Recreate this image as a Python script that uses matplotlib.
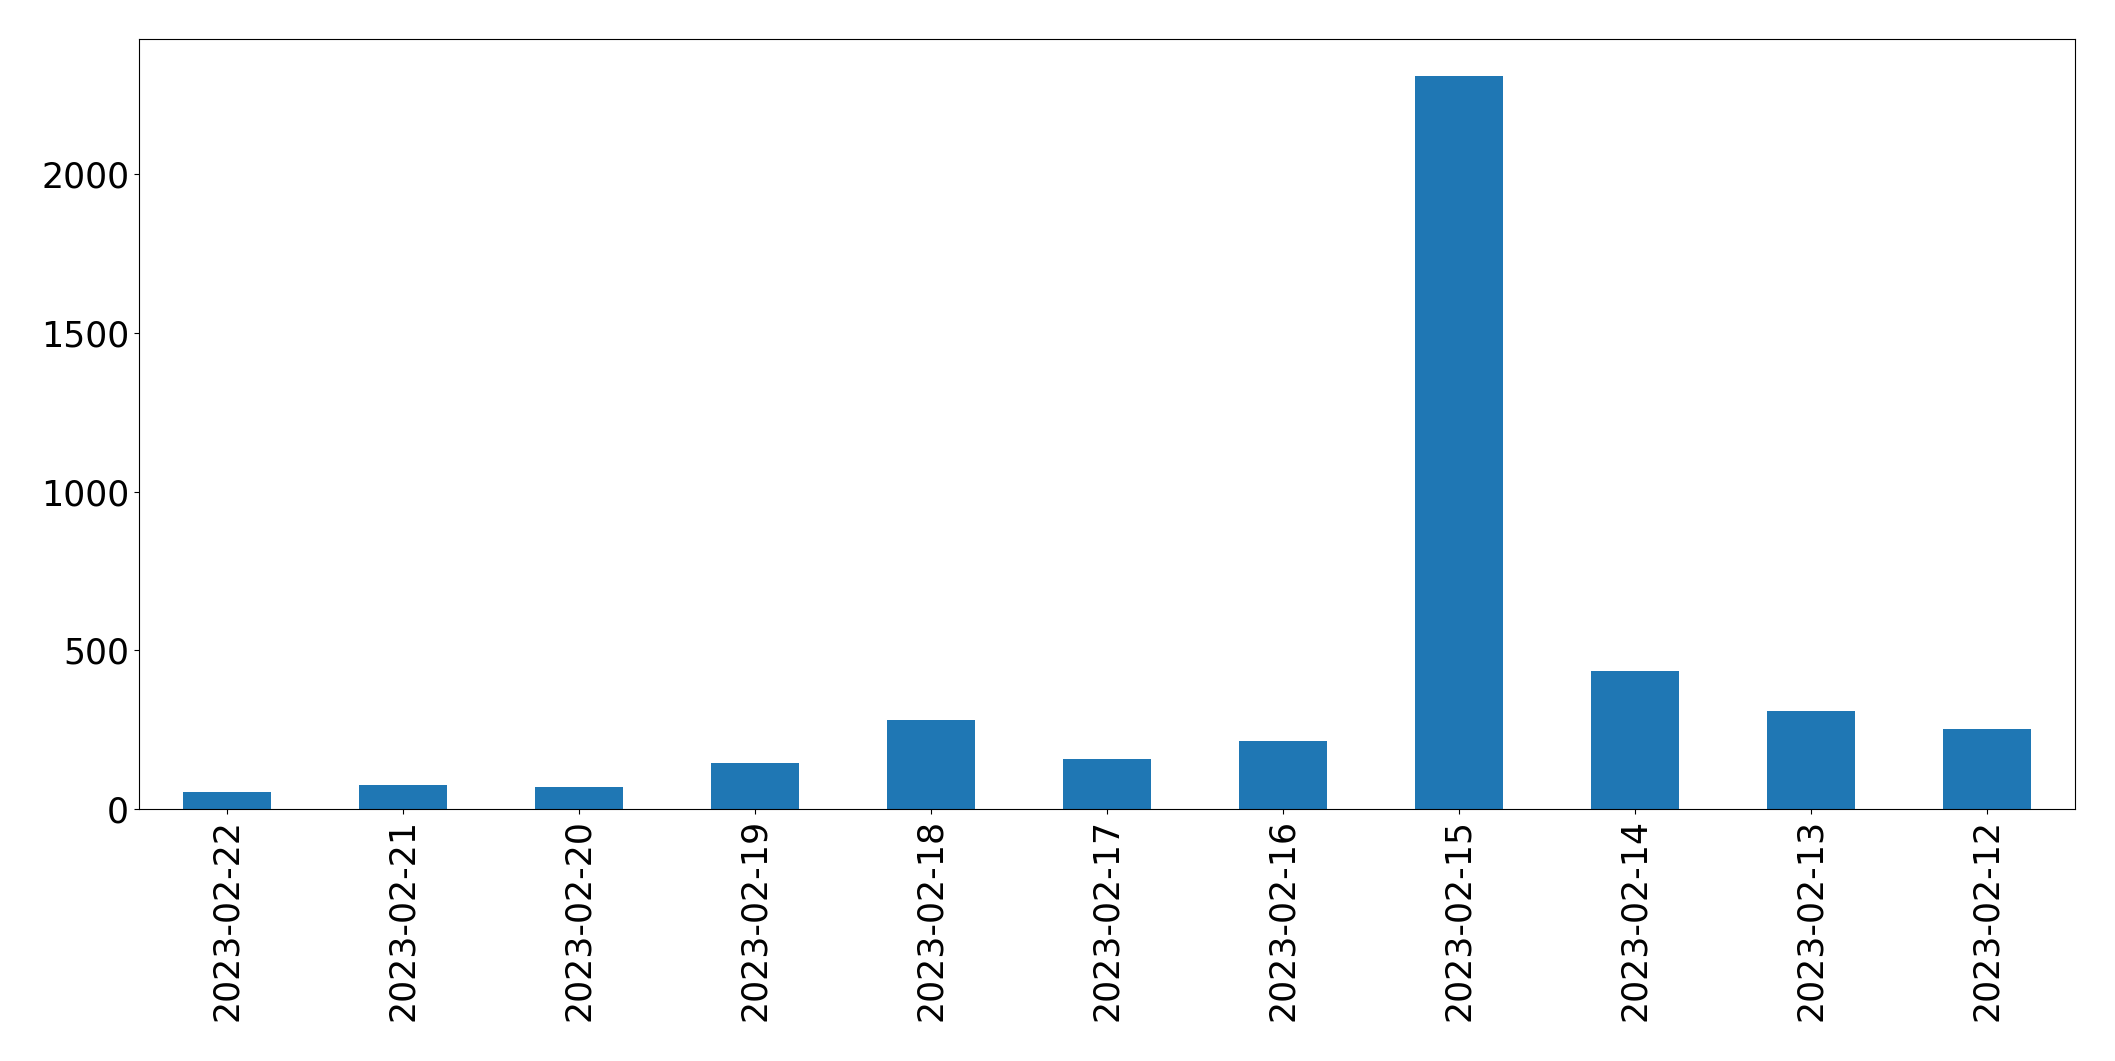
import matplotlib
matplotlib.use("Agg")
import matplotlib.pyplot as plt

dates = ['2023-02-22', '2023-02-21', '2023-02-20', '2023-02-19', '2023-02-18',
         '2023-02-17', '2023-02-16', '2023-02-15', '2023-02-14', '2023-02-13',
         '2023-02-12']
counts = [55, 77, 70, 146, 281, 158, 215, 2310, 436, 310, 253]

fig, ax = plt.subplots(figsize=(21.15, 10.61), dpi=100)
ax.bar(range(len(dates)), counts, width=0.5, color='#1f77b4')
ax.set_xlim(-0.5, len(dates) - 0.5)
ax.set_xticks(range(len(dates)))
ax.set_xticklabels(dates, rotation=90)
ax.tick_params(axis='both', labelsize=25)

fig.subplots_adjust(left=0.0657, right=0.981, top=0.963, bottom=0.2375)
fig.savefig('out.png')
